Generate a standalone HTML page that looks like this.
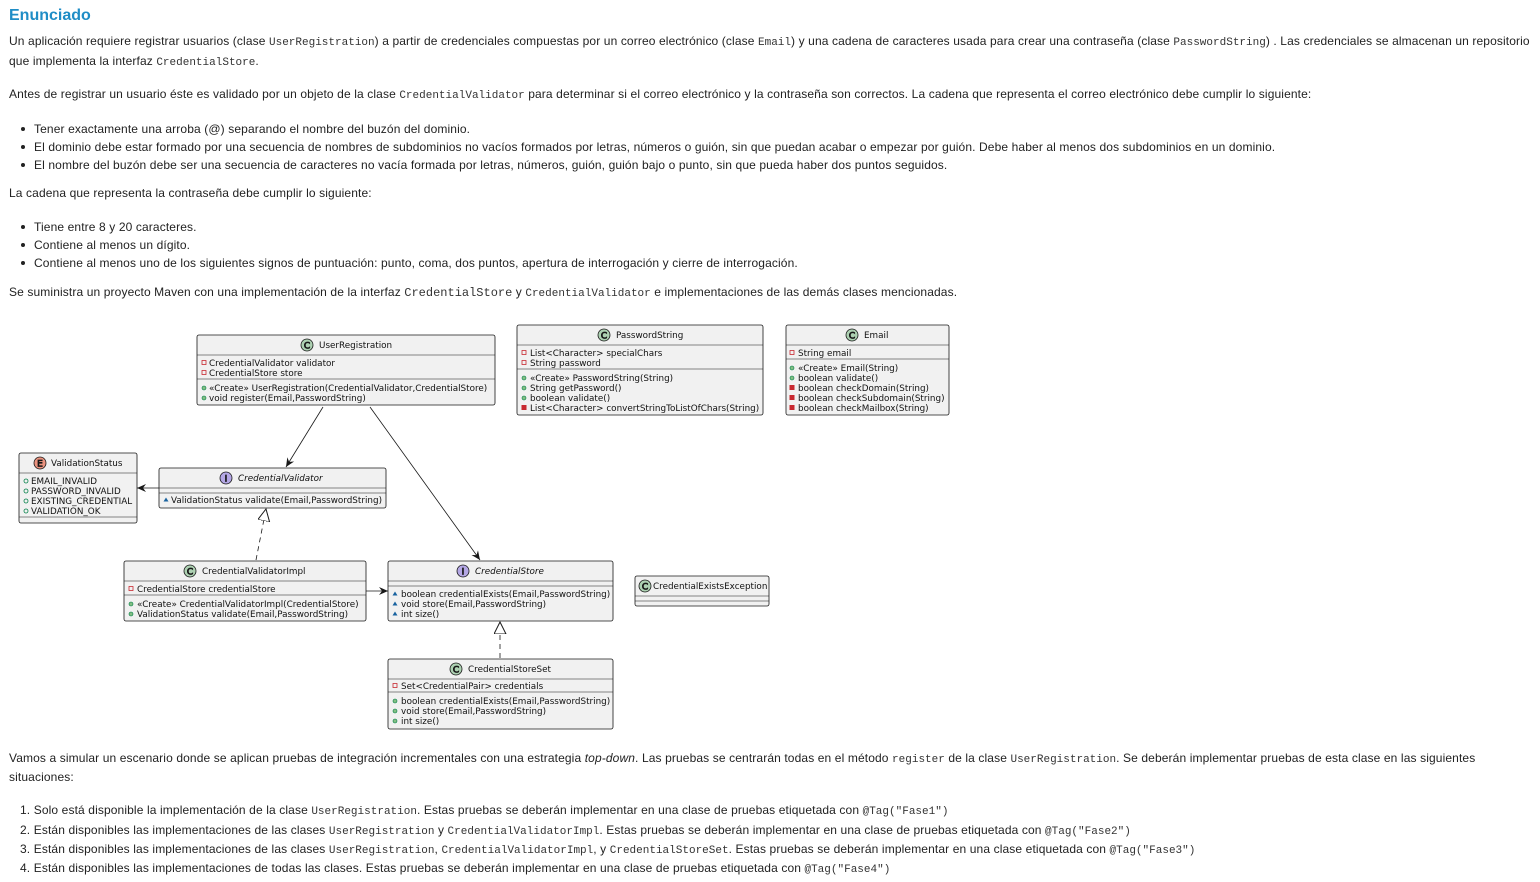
<!DOCTYPE html>
<html><head><meta charset="utf-8">
<style>
body{margin:0;width:1540px;height:882px;background:#fff;position:relative;overflow:hidden;font-family:"Liberation Sans",sans-serif;font-size:12px;color:#222}
.l{position:absolute;white-space:nowrap;line-height:14px;letter-spacing:0.12px}
code{font-family:"Liberation Mono",monospace;font-size:11px;color:#333;letter-spacing:0}
h1{position:absolute;left:9px;top:7px;margin:0;font-size:16px;color:#1f8dc6;font-weight:bold}
.b{position:absolute;width:4px;height:4px;border-radius:50%;background:#222}
svg{position:absolute;left:0;top:0}
svg text{font-family:"DejaVu Sans",sans-serif;font-size:8.8px;fill:#111}
</style></head><body>
<h1>Enunciado</h1>
<div class="l" style="left:9px;top:34px">Un aplicación requiere registrar usuarios (clase <code>UserRegistration</code>) a partir de credenciales compuestas por un correo electrónico (clase <code>Email</code>) y una cadena de caracteres usada para crear una contraseña (clase <code>PasswordString</code>) . Las credenciales se almacenan un repositorio</div>
<div class="l" style="left:9px;top:54px">que implementa la interfaz <code>CredentialStore</code>.</div>
<div class="l" style="left:9px;top:87px">Antes de registrar un usuario éste es validado por un objeto de la clase <code>CredentialValidator</code> para determinar si el correo electrónico y la contraseña son correctos. La cadena que representa el correo electrónico debe cumplir lo siguiente:</div>
<div class="b" style="left:21px;top:127px"></div>
<div class="l" style="left:34px;top:122px">Tener exactamente una arroba (@) separando el nombre del buzón del dominio.</div>
<div class="b" style="left:21px;top:145px"></div>
<div class="l" style="left:34px;top:140px">El dominio debe estar formado por una secuencia de nombres de subdominios no vacíos formados por letras, números o guión, sin que puedan acabar o empezar por guión. Debe haber al menos dos subdominios en un dominio.</div>
<div class="b" style="left:21px;top:163px"></div>
<div class="l" style="left:34px;top:158px">El nombre del buzón debe ser una secuencia de caracteres no vacía formada por letras, números, guión, guión bajo o punto, sin que pueda haber dos puntos seguidos.</div>
<div class="l" style="left:9px;top:186px">La cadena que representa la contraseña debe cumplir lo siguiente:</div>
<div class="b" style="left:21px;top:225px"></div>
<div class="l" style="left:34px;top:220px">Tiene entre 8 y 20 caracteres.</div>
<div class="b" style="left:21px;top:243px"></div>
<div class="l" style="left:34px;top:238px">Contiene al menos un dígito.</div>
<div class="b" style="left:21px;top:261px"></div>
<div class="l" style="left:34px;top:256px">Contiene al menos uno de los siguientes signos de puntuación: punto, coma, dos puntos, apertura de interrogación y cierre de interrogación.</div>
<div class="l" style="left:9px;top:285px">Se suministra un proyecto Maven con una implementación de la interfaz <code style="font-size:12px">CredentialStore</code> y <code>CredentialValidator</code> e implementaciones de las demás clases mencionadas.</div>
<div class="l" style="left:9px;top:751px">Vamos a simular un escenario donde se aplican pruebas de integración incrementales con una estrategia <i>top-down</i>. Las pruebas se centrarán todas en el método <code>register</code> de la clase <code>UserRegistration</code>. Se deberán implementar pruebas de esta clase en las siguientes</div>
<div class="l" style="left:9px;top:770px">situaciones:</div>
<div class="l" style="left:20px;top:803px">1. Solo está disponible la implementación de la clase <code>UserRegistration</code>. Estas pruebas se deberán implementar en una clase de pruebas etiquetada con <code>@Tag("Fase1")</code></div>
<div class="l" style="left:20px;top:823px">2. Están disponibles las implementaciones de las clases <code>UserRegistration</code> y <code>CredentialValidatorImpl</code>. Estas pruebas se deberán implementar en una clase de pruebas etiquetada con <code>@Tag("Fase2")</code></div>
<div class="l" style="left:20px;top:842px">3. Están disponibles las implementaciones de las clases <code>UserRegistration</code>, <code>CredentialValidatorImpl</code>, y <code>CredentialStoreSet</code>. Estas pruebas se deberán implementar en una clase etiquetada con <code>@Tag("Fase3")</code></div>
<div class="l" style="left:20px;top:861px">4. Están disponibles las implementaciones de todas las clases. Estas pruebas se deberán implementar en una clase de pruebas etiquetada con <code>@Tag("Fase4")</code></div>

<svg width="1540" height="882" viewBox="0 0 1540 882">
<defs>
<marker id="a" markerWidth="10" markerHeight="10" refX="9" refY="5" orient="auto" markerUnits="userSpaceOnUse"><path d="M0,1 L9,5 L0,9 L3,5 Z" fill="#181818"/></marker>
<marker id="t" markerWidth="14" markerHeight="14" refX="12" refY="6" orient="auto" markerUnits="userSpaceOnUse"><path d="M0,0 L12,6 L0,12 Z" fill="#fff" stroke="#181818"/></marker>
<g id="pv"><rect x="-2" y="-2.5" width="4" height="4" fill="none" stroke="#c82930" stroke-width="0.8"/></g>
<g id="pm"><rect x="-2.5" y="-3" width="5" height="5" fill="#c82930"/></g>
<g id="pu"><circle r="2" fill="#84be84" stroke="#038048" stroke-width="0.6"/></g>
<g id="po"><circle r="2" fill="none" stroke="#038048" stroke-width="0.8"/></g>
<g id="pk"><path d="M-2.5,1.5 L0,-2.5 L2.5,1.5 Z" fill="#1963a0"/></g>
</defs>
<g stroke="#181818" stroke-width="0.8" fill="#f1f1f1">
<rect x="197" y="335" width="298" height="70" rx="2"/>
<rect x="517" y="325" width="246" height="90" rx="2"/>
<rect x="786" y="325" width="163" height="90" rx="2"/>
<rect x="19" y="453" width="118" height="70" rx="2"/>
<rect x="159" y="468" width="227" height="40" rx="2"/>
<rect x="124" y="561" width="242" height="60" rx="2"/>
<rect x="388" y="561" width="225" height="60" rx="2"/>
<rect x="635" y="576" width="134" height="30" rx="2"/>
<rect x="388" y="659" width="225" height="70" rx="2"/>
</g>
<g stroke="#181818" stroke-width="0.6">
<line x1="197" y1="355" x2="495" y2="355"/><line x1="197" y1="379" x2="495" y2="379"/>
<line x1="517" y1="345" x2="763" y2="345"/><line x1="517" y1="369" x2="763" y2="369"/>
<line x1="786" y1="345" x2="949" y2="345"/><line x1="786" y1="359" x2="949" y2="359"/>
<line x1="19" y1="473" x2="137" y2="473"/><line x1="19" y1="517" x2="137" y2="517"/>
<line x1="159" y1="488" x2="386" y2="488"/><line x1="159" y1="493" x2="386" y2="493"/>
<line x1="124" y1="581" x2="366" y2="581"/><line x1="124" y1="595" x2="366" y2="595"/>
<line x1="388" y1="581" x2="613" y2="581"/><line x1="388" y1="586" x2="613" y2="586"/>
<line x1="635" y1="596" x2="769" y2="596"/><line x1="635" y1="601" x2="769" y2="601"/>
<line x1="388" y1="679" x2="613" y2="679"/><line x1="388" y1="692" x2="613" y2="692"/>
</g>
<g stroke="#181818" stroke-width="0.8" text-anchor="middle">
<circle cx="307" cy="345" r="6" fill="#add1b2"/><text x="307" y="348.5" style="font-size:9px">C</text>
<circle cx="604" cy="335" r="6" fill="#add1b2"/><text x="604" y="338.5" style="font-size:9px">C</text>
<circle cx="852" cy="335" r="6" fill="#add1b2"/><text x="852" y="338.5" style="font-size:9px">C</text>
<circle cx="40" cy="463" r="6" fill="#eb937f"/><text x="40" y="466.5" style="font-size:9px">E</text>
<circle cx="226" cy="478" r="6" fill="#b4a7e5"/><text x="226" y="481.5" style="font-size:9px">I</text>
<circle cx="190" cy="571" r="6" fill="#add1b2"/><text x="190" y="574.5" style="font-size:9px">C</text>
<circle cx="463" cy="571" r="6" fill="#b4a7e5"/><text x="463" y="574.5" style="font-size:9px">I</text>
<circle cx="645" cy="586" r="6" fill="#add1b2"/><text x="645" y="589.5" style="font-size:9px">C</text>
<circle cx="456" cy="669" r="6" fill="#add1b2"/><text x="456" y="672.5" style="font-size:9px">C</text>
</g>
<text x="319" y="348">UserRegistration</text>
<text x="616" y="338">PasswordString</text>
<text x="864" y="338">Email</text>
<text x="51" y="466">ValidationStatus</text>
<text x="238" y="481" font-style="italic">CredentialValidator</text>
<text x="202" y="574">CredentialValidatorImpl</text>
<text x="475" y="574" font-style="italic">CredentialStore</text>
<text x="653" y="589">CredentialExistsException</text>
<text x="468" y="672">CredentialStoreSet</text>
<use href="#pv" x="204" y="363"/><text x="209" y="366">CredentialValidator validator</text>
<use href="#pv" x="204" y="373"/><text x="209" y="376">CredentialStore store</text>
<use href="#pu" x="204" y="388"/><text x="209" y="391">«Create» UserRegistration(CredentialValidator,CredentialStore)</text>
<use href="#pu" x="204" y="398"/><text x="209" y="401">void register(Email,PasswordString)</text>

<use href="#pv" x="524" y="353"/><text x="530" y="356">List&lt;Character&gt; specialChars</text>
<use href="#pv" x="524" y="363"/><text x="530" y="366">String password</text>
<use href="#pu" x="524" y="378"/><text x="530" y="381">«Create» PasswordString(String)</text>
<use href="#pu" x="524" y="388"/><text x="530" y="391">String getPassword()</text>
<use href="#pu" x="524" y="398"/><text x="530" y="401">boolean validate()</text>
<use href="#pm" x="524" y="408"/><text x="530" y="411">List&lt;Character&gt; convertStringToListOfChars(String)</text>

<use href="#pv" x="792" y="353"/><text x="798" y="356">String email</text>
<use href="#pu" x="792" y="368"/><text x="798" y="371">«Create» Email(String)</text>
<use href="#pu" x="792" y="378"/><text x="798" y="381">boolean validate()</text>
<use href="#pm" x="792" y="388"/><text x="798" y="391">boolean checkDomain(String)</text>
<use href="#pm" x="792" y="398"/><text x="798" y="401">boolean checkSubdomain(String)</text>
<use href="#pm" x="792" y="408"/><text x="798" y="411">boolean checkMailbox(String)</text>

<use href="#po" x="26" y="481"/><text x="31" y="484">EMAIL_INVALID</text>
<use href="#po" x="26" y="491"/><text x="31" y="494">PASSWORD_INVALID</text>
<use href="#po" x="26" y="501"/><text x="31" y="504">EXISTING_CREDENTIAL</text>
<use href="#po" x="26" y="511"/><text x="31" y="514">VALIDATION_OK</text>

<use href="#pk" x="166" y="500"/><text x="171" y="503">ValidationStatus validate(Email,PasswordString)</text>

<use href="#pv" x="131" y="589"/><text x="137" y="592">CredentialStore credentialStore</text>
<use href="#pu" x="131" y="604"/><text x="137" y="607">«Create» CredentialValidatorImpl(CredentialStore)</text>
<use href="#pu" x="131" y="614"/><text x="137" y="617">ValidationStatus validate(Email,PasswordString)</text>

<use href="#pk" x="395" y="594"/><text x="401" y="597">boolean credentialExists(Email,PasswordString)</text>
<use href="#pk" x="395" y="604"/><text x="401" y="607">void store(Email,PasswordString)</text>
<use href="#pk" x="395" y="614"/><text x="401" y="617">int size()</text>

<use href="#pv" x="395" y="686"/><text x="401" y="689">Set&lt;CredentialPair&gt; credentials</text>
<use href="#pu" x="395" y="701"/><text x="401" y="704">boolean credentialExists(Email,PasswordString)</text>
<use href="#pu" x="395" y="711"/><text x="401" y="714">void store(Email,PasswordString)</text>
<use href="#pu" x="395" y="721"/><text x="401" y="724">int size()</text>
<g stroke="#181818" stroke-width="0.8" fill="none">
<line x1="323" y1="407" x2="286" y2="467" marker-end="url(#a)"/>
<line x1="370" y1="407" x2="480" y2="560" marker-end="url(#a)"/>
<line x1="159" y1="488" x2="137" y2="488" marker-end="url(#a)"/>
<line x1="366" y1="591" x2="388" y2="591" marker-end="url(#a)"/>
<line x1="256" y1="560" x2="266" y2="509" stroke-dasharray="5,4" marker-end="url(#t)"/>
<line x1="500" y1="658" x2="500" y2="622" stroke-dasharray="5,4" marker-end="url(#t)"/>
</g>
</svg>
</body></html>
